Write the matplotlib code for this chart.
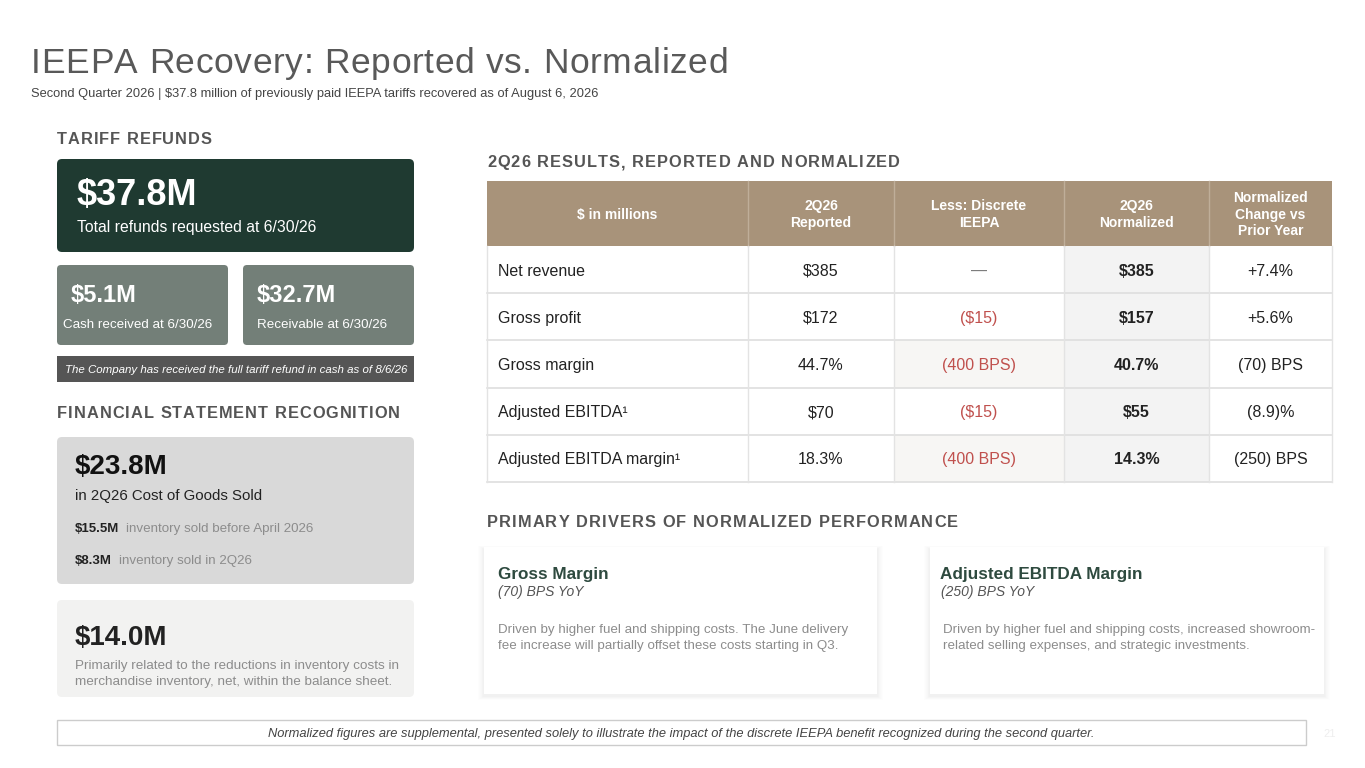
import matplotlib
matplotlib.use("Agg")
import matplotlib.pyplot as plt
from matplotlib.patches import Rectangle, FancyBboxPatch

plt.rcParams['font.family'] = ['Liberation Sans', 'DejaVu Sans']

# ---------------- data ----------------
title = "IEEPA Recovery: Reported vs. Normalized"
subtitle = "Second Quarter 2026 | $37.8 million of previously paid IEEPA tariffs recovered as of August 6, 2026"

refund_total = "$37.8M"
refund_total_label = "Total refunds requested at 6/30/26"
refund_cash = "$5.1M"
refund_cash_label = "Cash received at 6/30/26"
refund_recv = "$32.7M"
refund_recv_label = "Receivable at 6/30/26"
refund_note = "The Company has received the full tariff refund in cash as of 8/6/26"

cogs_total = "$23.8M"
cogs_label = "in 2Q26 Cost of Goods Sold"
cogs_parts = ["$15.5M", "$8.3M"]
cogs_part_labels = ["inventory sold before April 2026", "inventory sold in 2Q26"]
bs_total = "$14.0M"
bs_lines = ["Primarily related to the reductions in inventory costs in",
            "merchandise inventory, net, within the balance sheet."]

table_headers = ["$ in millions", "2Q26\nReported", "Less: Discrete\nIEEPA",
                 "2Q26\nNormalized", "Normalized\nChange vs\nPrior Year"]
row_labels = ["Net revenue", "Gross profit", "Gross margin",
              "Adjusted EBITDA\u00b9", "Adjusted EBITDA margin\u00b9"]
reported = ["$385", "$172", "44.7%", "$70", "18.3%"]
ieepa = ["\u2014", "($15)", "(400 BPS)", "($15)", "(400 BPS)"]
normalized = ["$385", "$157", "40.7%", "$55", "14.3%"]
change = ["+7.4%", "+5.6%", "(70) BPS", "(8.9)%", "(250) BPS"]

driver_titles = ["Gross Margin", "Adjusted EBITDA Margin"]
driver_subs = ["(70) BPS YoY", "(250) BPS YoY"]
driver_body = [["Driven by higher fuel and shipping costs. The June delivery",
                "fee increase will partially offset these costs starting in Q3."],
               ["Driven by higher fuel and shipping costs, increased showroom-",
                "related selling expenses, and strategic investments."]]

footer = ("Normalized figures are supplemental, presented solely to illustrate the impact "
          "of the discrete IEEPA benefit recognized during the second quarter.")
page_no = "21"

# ---------------- figure ----------------
W, H = 1365, 768
fig = plt.figure(figsize=(W / 100, H / 100), dpi=100)
fig.patch.set_facecolor("white")
ax = fig.add_axes([0, 0, 1, 1])
ax.set_xlim(0, W)
ax.set_ylim(H, 0)
ax.axis("off")
renderer = fig.canvas.get_renderer()


def box(x0, y0, x1, y1, color, r=4, ec="none", lw=0, z=1):
    if r > 0:
        p = FancyBboxPatch((x0, y0), x1 - x0, y1 - y0,
                           boxstyle=f"round,pad=0,rounding_size={r}",
                           fc=color, ec=ec, lw=lw, zorder=z)
    else:
        p = Rectangle((x0, y0), x1 - x0, y1 - y0, fc=color, ec=ec, lw=lw, zorder=z)
    ax.add_patch(p)


def txt(x, y, s, size, color="#222222", weight="normal", style="normal",
        ha="left", va="baseline", **kw):
    return ax.text(x, y, s, fontsize=size, color=color, fontweight=weight,
                   fontstyle=style, ha=ha, va=va, zorder=5, **kw)


def spaced(x, y, s, size, target_w, color="#555555", weight="bold"):
    # draw text char by char, spreading it to the target width
    widths = []
    arts = []
    for ch in s:
        t = txt(0, y, ch, size, color=color, weight=weight)
        widths.append(t.get_window_extent(renderer).width if ch != " " else None)
        arts.append(t)
    sp = txt(0, y, "a a", size, weight=weight)
    sp2 = txt(0, y, "aa", size, weight=weight)
    space_w = sp.get_window_extent(renderer).width - sp2.get_window_extent(renderer).width
    sp.remove(); sp2.remove()
    widths = [w if w is not None else space_w for w in widths]
    nat = sum(widths)
    gap = (target_w - nat) / max(len(s) - 1, 1)
    cx = x
    for t, w in zip(arts, widths):
        t.set_x(cx)
        cx += w + gap


# title
spaced(31, 73, title, 25.5, 697, color="#595959", weight="normal")
txt(31, 97, subtitle, 9.25, color="#444444")

# ---------------- left column ----------------
spaced(57, 144, "TARIFF REFUNDS", 11.8, 155)

box(57, 159, 414, 252, "#1f3a31", r=5)
txt(77, 205, refund_total, 26, color="white", weight="bold")
txt(77, 232, refund_total_label, 11.3, color="white")

box(57, 265, 228, 345, "#737f78", r=4)
box(243, 265, 414, 345, "#737f78", r=4)
txt(71, 302, refund_cash, 17, color="white", weight="bold")
txt(63, 328, refund_cash_label, 9.6, color="white")
txt(257, 302, refund_recv, 17, color="white", weight="bold")
txt(257, 328, refund_recv_label, 9.6, color="white")

box(57, 356, 414, 382, "#555555", r=0)
txt(236, 373, refund_note, 8.25, color="white", style="italic", ha="center")

spaced(57, 418, "FINANCIAL STATEMENT RECOGNITION", 11.8, 343)

box(57, 437, 414, 584, "#d9d9d9", r=5)
txt(75, 474, cogs_total, 20, color="#111111", weight="bold")
txt(75, 500, cogs_label, 10.8, color="#222222")
for i, (v, lab) in enumerate(zip(cogs_parts, cogs_part_labels)):
    yb = 532 + i * 32
    t = txt(75, yb, v, 9.5, color="#222222", weight="bold")
    wv = t.get_window_extent(renderer).width
    txt(75 + wv + 7, yb, lab, 9.6, color="#8c8c8c")

box(57, 600, 414, 697, "#f2f2f1", r=5)
txt(75, 645, bs_total, 20, color="#222222", weight="bold")
for i, line in enumerate(bs_lines):
    txt(75, 669 + i * 16, line, 9.7, color="#8c8c8c")

# ---------------- table ----------------
spaced(487, 167, "2Q26 RESULTS, REPORTED AND NORMALIZED", 11.8, 413)

col_edges = [487, 748, 894, 1064, 1209, 1332]
hdr_top, hdr_bot = 181, 246
row_h = 47.2
box(col_edges[0], hdr_top, col_edges[-1], hdr_bot, "#a8937a", r=0)
for xe in col_edges[1:-1]:
    ax.plot([xe, xe], [hdr_top, hdr_bot], color="#bfae99", lw=1, zorder=3)
for j, h in enumerate(table_headers):
    cx = (col_edges[j] + col_edges[j + 1]) / 2
    txt(cx, (hdr_top + hdr_bot) / 2 + 1, h, 10, color="white", weight="bold",
        ha="center", va="center", linespacing=1.25)

n_rows = len(row_labels)
tab_bot = hdr_bot + row_h * n_rows
# normalized column background
box(col_edges[3], hdr_bot, col_edges[4], tab_bot, "#f3f3f3", r=0, z=1)
cols = [reported, ieepa, normalized, change]
for i in range(n_rows):
    y0 = hdr_bot + i * row_h
    yb = y0 + row_h / 2 + 6
    if "BPS" in ieepa[i]:
        box(col_edges[2], y0, col_edges[3], y0 + row_h, "#f7f6f4", r=0, z=1)
    txt(498, yb, row_labels[i], 11.5, color="#222222")
    for j, col in enumerate(cols):
        cx = (col_edges[j + 1] + col_edges[j + 2]) / 2
        color = "#222222"
        weight = "normal"
        if j == 1:
            color = "#c0504d" if col[i] != "\u2014" else "#777777"
        if j == 2:
            weight = "bold"
        txt(cx, yb, col[i], 11.5, color=color, weight=weight, ha="center")
    ax.plot([col_edges[0], col_edges[-1]], [y0 + row_h, y0 + row_h],
            color="#dedede", lw=1.2, zorder=3)
for xe in col_edges:
    ax.plot([xe, xe], [hdr_bot, tab_bot], color="#e3e3e3", lw=1, zorder=3)

# ---------------- drivers ----------------
spaced(487, 527, "PRIMARY DRIVERS OF NORMALIZED PERFORMANCE", 11.8, 471)

cards = [(484, 547, 877, 694), (930, 547, 1324, 694)]
text_x = [(498, 498, 498), (940, 941, 943)]
for k, (x0, y0, x1, y1) in enumerate(cards):
    for s in range(1, 8):
        ax.add_patch(Rectangle((x0 - s * 0.8, y0 - s * 0.5 + 2), x1 - x0 + 1.6 * s,
                               y1 - y0 + s * 1.0, fc="black", ec="none",
                               alpha=0.009, zorder=1))
    box(x0, y0, x1, y1, "white", r=0, z=2)
    tx, sx, bx = text_x[k]
    txt(tx, 579, driver_titles[k], 12.3, color="#2e4a3f", weight="bold")
    txt(sx, 596, driver_subs[k], 10, color="#555555", style="italic")
    for i, line in enumerate(driver_body[k]):
        txt(bx, 633 + i * 16.5, line, 9.6, color="#8c8c8c")

# ---------------- footer ----------------
box(57, 720, 1306, 745, "white", r=0, ec="#cccccc", lw=1)
txt(681, 737, footer, 9.3, color="#444444", style="italic", ha="center")
txt(1330, 737, page_no, 8, color="#eeeeee", ha="center")

fig.savefig("out.png", dpi=100, facecolor="white")
